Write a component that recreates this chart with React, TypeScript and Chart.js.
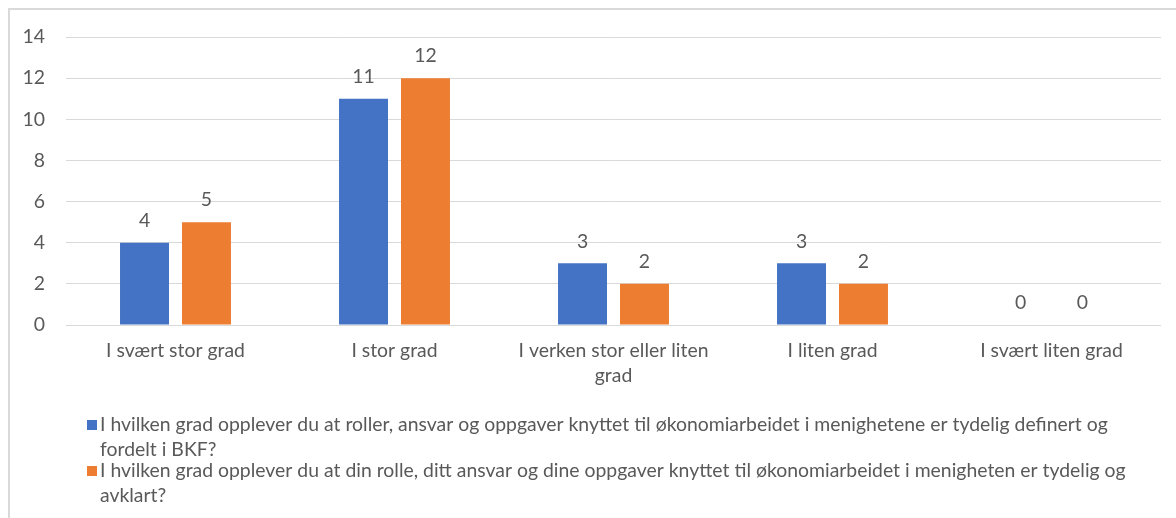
import React, { useEffect, useRef } from "react";
import { Chart, registerables } from "chart.js";

Chart.register(...registerables);

const categories: (string | string[])[] = [
  "I svært stor grad",
  "I stor grad",
  ["I verken stor eller liten", "grad"],
  "I liten grad",
  "I svært liten grad",
];
const seriesA: number[] = [4, 11, 3, 3, 0];
const seriesB: number[] = [5, 12, 2, 2, 0];
const seriesALabel: string[] = [
  "I hvilken grad opplever du at roller, ansvar og oppgaver knyttet til økonomiarbeidet i menighetene er tydelig definert og",
  "fordelt i BKF?",
];
const seriesBLabel: string[] = [
  "I hvilken grad opplever du at din rolle, ditt ansvar og dine oppgaver knyttet til økonomiarbeidet i menigheten er tydelig og",
  "avklart?",
];
const yTicks: number[] = [0, 2, 4, 6, 8, 10, 12, 14];

const BLUE = "#4472C4";
const ORANGE = "#ED7D31";
const TEXT = "#595959";
const GRID = "#d9d9d9";
const FONT = "Lato, 'Open Sans', sans-serif";
const FSIZE = 19.4;

const W = 1166;
const H = 508;

export default function App() {
  const ref = useRef<HTMLCanvasElement | null>(null);

  useEffect(() => {
    if (!ref.current) return;

    const dataLabels = {
      id: "dataLabels",
      afterDatasetsDraw(chart: any) {
        const ctx = chart.ctx;
        ctx.save();
        ctx.fillStyle = TEXT;
        ctx.font = `${FSIZE}px ${FONT}`;
        ctx.textAlign = "center";
        ctx.textBaseline = "middle";
        chart.data.datasets.forEach((ds: any, i: number) => {
          const meta = chart.getDatasetMeta(i);
          meta.data.forEach((bar: any, j: number) => {
            ctx.fillText(String(ds.data[j]), bar.x, bar.y - 22);
          });
        });
        ctx.restore();
      },
    };

    const legendPlugin = {
      id: "customLegend",
      afterDraw(chart: any) {
        const ctx = chart.ctx;
        ctx.save();
        ctx.font = `${FSIZE}px ${FONT}`;
        ctx.textBaseline = "middle";
        ctx.textAlign = "left";
        const items = [
          { color: BLUE, lines: seriesALabel, y: 415 },
          { color: ORANGE, lines: seriesBLabel, y: 461 },
        ];
        items.forEach((it) => {
          ctx.fillStyle = it.color;
          ctx.fillRect(77, it.y - 5, 10, 10);
          ctx.fillStyle = TEXT;
          it.lines.forEach((ln, k) => {
            ctx.fillText(ln, 90, it.y + k * 25);
          });
        });
        ctx.restore();
      },
    };

    const chart = new Chart(ref.current, {
      type: "bar",
      data: {
        labels: categories,
        datasets: [
          {
            label: seriesALabel.join(" "),
            data: seriesA,
            backgroundColor: BLUE,
            barPercentage: 0.79,
            categoryPercentage: 0.566,
          },
          {
            label: seriesBLabel.join(" "),
            data: seriesB,
            backgroundColor: ORANGE,
            barPercentage: 0.79,
            categoryPercentage: 0.566,
          },
        ],
      },
      options: {
        responsive: false,
        animation: false,
        layout: { padding: { top: 27, right: 15, left: 0, bottom: 0 } },
        plugins: {
          legend: { display: false },
          tooltip: { enabled: false },
        },
        scales: {
          x: {
            grid: { display: false, drawTicks: false },
            border: { display: false },
            ticks: {
              color: TEXT,
              font: { family: FONT, size: FSIZE, lineHeight: 1.26 },
              padding: 14,
              maxRotation: 0,
              autoSkip: false,
            },
            afterFit(scale: any) {
              scale.height = 193;
            },
          },
          y: {
            min: 0,
            max: 14,
            afterBuildTicks(scale: any) {
              scale.ticks = yTicks.map((v) => ({ value: v }));
            },
            grid: { color: GRID, lineWidth: 1, drawTicks: false },
            border: { display: false },
            ticks: {
              color: TEXT,
              font: { family: FONT, size: FSIZE },
              padding: 21,
            },
            afterFit(scale: any) {
              scale.width = 56;
              scale.paddingTop = 12;
              scale.paddingBottom = 12;
            },
          },
        },
      },
      plugins: [dataLabels, legendPlugin],
    });

    return () => chart.destroy();
  }, []);

  return (
    <div
      style={{
        position: "fixed",
        left: 8,
        top: 8,
        width: W + 20,
        height: H + 20,
        borderLeft: `2px solid ${GRID}`,
        borderTop: `2px solid ${GRID}`,
        background: "#fff",
      }}
    >
      <canvas ref={ref} width={W} height={H} style={{ width: W, height: H, display: "block" }} />
    </div>
  );
}
